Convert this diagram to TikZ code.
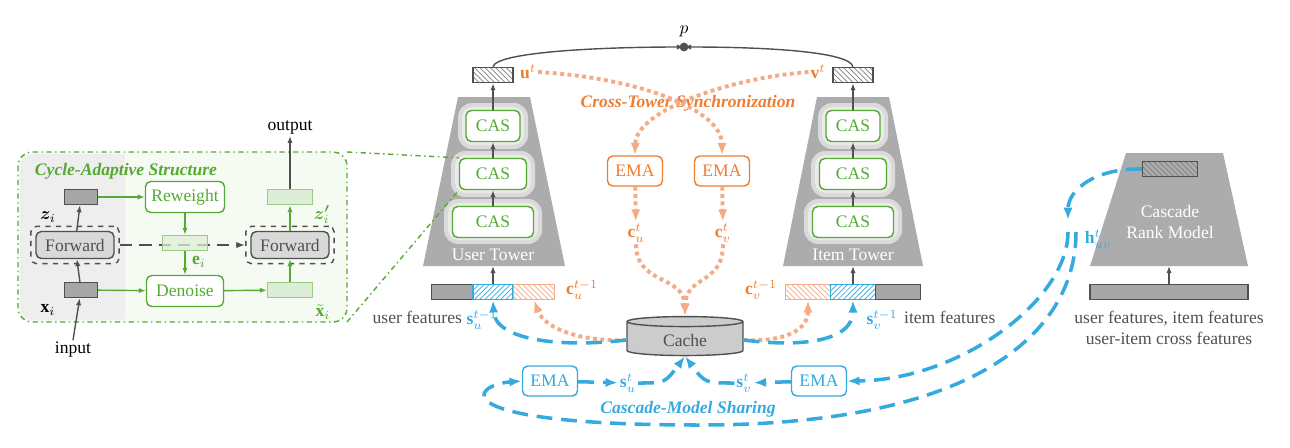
\documentclass[tikz,border=0pt]{standalone}
\usepackage{amsmath}
\usepackage{bm}
\usepackage{fontspec}
\setmainfont{Liberation Serif}
\usetikzlibrary{patterns,shapes.geometric,fit,arrows.meta}

\definecolor{casgreen}{RGB}{84,170,50}
\definecolor{syncor}{RGB}{237,125,49}
\definecolor{lightor}{RGB}{244,170,130}
\definecolor{shareblue}{RGB}{52,170,222}
\definecolor{towergray}{RGB}{172,172,172}
\definecolor{darkline}{RGB}{80,80,80}

\tikzset{
  cas/.style={draw=casgreen, thick, rounded corners=3pt, fill=white, text=casgreen,
    minimum height=0.62cm, font=\normalsize},
  halo/.style={fill=white!55!towergray, rounded corners=8pt},
  halo2/.style={fill=white!75!towergray, rounded corners=6pt},
  ema/.style={draw=#1, thick, rounded corners=3pt, fill=white, text=#1,
    minimum width=1.1cm, minimum height=0.6cm, font=\normalsize},
  vec/.style={draw=darkline, thick, minimum width=0.66cm, minimum height=0.3cm, inner sep=0pt},
  gvec/.style={draw=casgreen!60, thick, fill=casgreen!20, minimum width=0.9cm, minimum height=0.3cm, inner sep=0pt},
  fwd/.style={draw=darkline, thick, rounded corners=3pt, fill=gray!30, text=darkline,
    minimum width=1.56cm, minimum height=0.54cm, font=\normalsize},
  gbox/.style={draw=casgreen, thick, rounded corners=3pt, fill=white, text=casgreen,
    minimum width=1.54cm, minimum height=0.62cm, font=\normalsize},
  lbl/.style={font=\normalsize, inner sep=1pt},
  arr/.style={darkline, thick, -{Latex[length=4pt]}},
  garr/.style={casgreen, thick, -{Latex[length=4pt]}},
  odot/.style={lightor, line width=2.2pt, dotted, -{Latex[length=7pt]}},
  bdash/.style={shareblue, line width=2pt, dash pattern=on 9pt off 5pt, -{Latex[length=7pt]}},
}

\begin{document}
\begin{tikzpicture}[x=0.02cm, y=-0.02cm, font=\small]
  \useasboundingbox (0,0) rectangle (1290,447);

  % cycle-adaptive structure panel
  \draw[casgreen, thick, dash dot, rounded corners=8pt, fill=casgreen!6] (18,152) rectangle (347,322);
  \fill[gray!13, rounded corners=7pt] (20,154) rectangle (125,320);
  \fill[gray!13] (100,154) rectangle (125,320);
  \node[casgreen, font=\normalsize\bfseries\itshape] at (126,171) {Cycle-Adaptive Structure};

  \node[vec, fill=gray!70] (z) at (81,197) {};
  \node[fwd] (fwdA) at (75,245) {Forward};
  \node[draw=darkline, thick, dashed, rounded corners=3pt, fit=(fwdA), inner sep=2.5pt] {};
  \node[vec, fill=gray!70] (x) at (81,290) {};
  \node[gbox] (rew) at (185,197) {Reweight};
  \node[gbox] (den) at (185,291) {Denoise};
  \node[gvec] (zp) at (290,197) {};
  \node[fwd] (fwdB) at (290,245) {Forward};
  \node[draw=darkline, thick, dashed, rounded corners=3pt, fit=(fwdB), inner sep=2.5pt] {};
  \node[gvec] (xt) at (290,290) {};

  \draw[darkline, line width=1.6pt, dash pattern=on 7pt off 4pt, -{Latex[length=5pt]}]
    ([xshift=3pt]fwdA.east) -- ([xshift=-3pt]fwdB.west);
  \node[gvec, fill opacity=0.75] (e) at (185,243) {};

  \node[lbl] (inp) at (73,350) {input};
  \node[lbl] (outp) at (290,127) {output};
  \draw[arr] (inp.north) -- (x);
  \draw[arr] (x) -- (fwdA);
  \draw[arr] (fwdA) -- (z);
  \draw[arr] (zp) -- (outp.south);
  \draw[garr] (z) -- (rew);
  \draw[garr] (rew) -- (e);
  \draw[garr] (e) -- (den);
  \draw[garr] (x) -- (den);
  \draw[garr] (den) -- (xt);
  \draw[garr] (xt) -- (fwdB);
  \draw[garr] (fwdB) -- (zp);
  \node[lbl] at (48,217) {$\bm{z}_i$};
  \node[lbl] at (48,310) {$\mathbf{x}_i$};
  \node[lbl, casgreen] at (199,262) {$\mathbf{e}_i$};
  \node[lbl, casgreen] at (322,215) {$\bm{z'}_i$};
  \node[lbl, casgreen] at (323,312) {$\tilde{\mathbf{x}}_i$};

  % towers
  \fill[towergray] (458,97) -- (530,97) -- (565,266) -- (423,266) -- cycle;
  \fill[towergray] (817,97) -- (889,97) -- (923,266) -- (783,266) -- cycle;
  \foreach \cx/\nm in {493/u, 853/v}{
    \fill[halo] (\cx-35,103) rectangle (\cx+35,149);
    \fill[halo] (\cx-42,151) rectangle (\cx+42,197);
    \fill[halo] (\cx-49,199) rectangle (\cx+49,244);
    \fill[halo2] (\cx-31,107) rectangle (\cx+31,145);
    \fill[halo2] (\cx-38,155) rectangle (\cx+38,193);
    \fill[halo2] (\cx-45,203) rectangle (\cx+45,240);
    \node[cas, minimum width=1.08cm] (cas1\nm) at (\cx,126) {CAS};
    \node[cas, minimum width=1.34cm] (cas2\nm) at (\cx,174) {CAS};
    \node[cas, minimum width=1.62cm] (cas3\nm) at (\cx,222) {CAS};
    \draw[arr] (cas3\nm) -- (cas2\nm);
    \draw[arr] (cas2\nm) -- (cas1\nm);
  }
  \node[white, font=\normalsize] at (493,255) {User Tower};
  \node[white, font=\normalsize] at (853,255) {Item Tower};

  \draw[casgreen, thick, dash dot] (347,152) -- (cas2u.north west);
  \draw[casgreen, thick, dash dot] (347,322) -- (cas2u.south west);

  % tower outputs
  \node[vec, minimum width=0.8cm, pattern=north west lines, pattern color=gray] (ur) at (493,75) {};
  \node[vec, minimum width=0.8cm, pattern=north west lines, pattern color=gray] (vr) at (853,75) {};
  \draw[arr] (cas1u) -- (ur);
  \draw[arr] (cas1v) -- (vr);
  \node[lbl] (p) at (684,31) {$p$};
  \fill[darkline] (684,47) circle (2.5pt) coordinate (pdot);
  \draw[arr] (ur.north) .. controls (496,52) and (600,47) .. (pdot);
  \draw[arr] (vr.north) .. controls (850,52) and (770,47) .. (pdot);
  \node[lbl, syncor] (ut) at (528,72) {$\mathbf{u}^t$};
  \node[lbl, syncor] (vt) at (818,72) {$\mathbf{v}^t$};

  % feature bars
  \node[vec, minimum width=0.82cm, fill=gray!70] (fu) at (452,292) {};
  \node[vec, draw=shareblue, minimum width=0.8cm, pattern=north east lines, pattern color=shareblue] (su) at (493,292) {};
  \node[vec, draw=lightor, minimum width=0.82cm, pattern=north west lines, pattern color=lightor] (cuo) at (534,292) {};
  \draw[arr] (su.north) -- (493,266);
  \node[vec, draw=lightor, minimum width=0.9cm, pattern=north west lines, pattern color=lightor] (cvo) at (808,292) {};
  \node[vec, draw=shareblue, minimum width=0.9cm, pattern=north east lines, pattern color=shareblue] (sv) at (853,292) {};
  \node[vec, minimum width=0.9cm, fill=gray!70] (fv) at (898,292) {};
  \draw[arr] (sv.north) -- (853,266);
  \node[lbl, syncor] at (582,290) {$\mathbf{c}_u^{t-1}$};
  \node[lbl, syncor] at (761,290) {$\mathbf{c}_v^{t-1}$};
  \node[lbl, shareblue] (sul) at (482,320) {$\mathbf{s}_u^{t-1}$};
  \node[lbl, shareblue] (svl) at (882,320) {$\mathbf{s}_v^{t-1}$};
  \node[lbl, darkline, anchor=east] at (464,317) {user features};
  \node[lbl, darkline, anchor=west] at (902,317) {item features};

  % cross-tower synchronization
  \node[syncor, font=\normalsize\bfseries\itshape] at (688,103) {Cross-Tower Synchronization};
  \node[ema=syncor] (emaA) at (635,171) {EMA};
  \node[ema=syncor] (emaB) at (722,171) {EMA};
  \node[lbl, syncor] (cu) at (636,233) {$\mathbf{c}_u^t$};
  \node[lbl, syncor] (cv) at (723,233) {$\mathbf{c}_v^t$};
  \node[cylinder, shape border rotate=90, draw=darkline, thick, fill=gray!40, aspect=0.18,
    minimum width=2.32cm, minimum height=0.78cm, text=darkline, font=\normalsize] (cache) at (685,340) {Cache};
  \draw[odot] (ut.east) .. controls (640,78) and (722,110) .. (emaB.north);
  \draw[odot] (vt.west) .. controls (730,78) and (636,110) .. (emaA.north);
  \draw[odot] (emaA) -- (cu);
  \draw[odot] (emaB) -- (cv);
  \draw[odot] (cu.south) .. controls (636,285) and (684,275) .. (cache.north);
  \draw[odot] (cv.south) .. controls (723,285) and (686,275) .. (cache.north);
  \draw[odot] (cache.west) .. controls (585,342) and (545,330) .. (cuo.south);
  \draw[odot] (cache.east) .. controls (785,342) and (808,330) .. (cvo.south);

  % cascade-model sharing
  \draw[bdash] (cache.west) .. controls (560,348) and (495,340) .. (su.south);
  \draw[bdash] (cache.east) .. controls (805,348) and (853,340) .. (sv.south);
  \node[ema=shareblue] (emaC) at (550,381) {EMA};
  \node[ema=shareblue] (emaD) at (819,381) {EMA};
  \node[lbl, shareblue] (sut) at (628,383) {$\mathbf{s}_u^t$};
  \node[lbl, shareblue] (svt) at (744,383) {$\mathbf{s}_v^t$};
  \draw[bdash] (emaC) -- (sut);
  \draw[bdash] (emaD) -- (svt);
  \draw[bdash] (sut.east) .. controls (665,383) .. (cache.south);
  \draw[bdash] (svt.west) .. controls (705,383) .. (cache.south);
  \node[shareblue, font=\normalsize\bfseries\itshape] at (688,409) {Cascade-Model Sharing};

  % cascade rank model
  \fill[towergray] (1126,153) -- (1223,153) -- (1248,266) -- (1090,266) -- cycle;
  \node[vec, minimum width=1.1cm, pattern=north west lines, pattern color=gray] (hr) at (1170,169) {};
  \node[white, align=center, font=\normalsize] at (1170,222) {Cascade\\Rank Model};
  \node[vec, minimum width=3.16cm, fill=gray!70] (fr) at (1169,292) {};
  \draw[arr] (fr.north) -- (1169,266);
  \node[lbl, darkline, align=center] at (1169,328) {user features, item features\\user-item cross features};
  \node[lbl, shareblue] at (1098,239) {$\mathbf{h}_{uv}^t$};
  \coordinate (hmid) at (1068,220);
  \draw[bdash] (hr.west) .. controls (1095,168) and (1068,190) .. (hmid);
  \draw[bdash] (1068,232) .. controls (1068,300) and (960,380) .. (emaD.east);
  \draw[bdash] (1076,232) .. controls (1076,330) and (980,425) .. (700,425)
    .. controls (440,425) and (470,385) .. (emaC.west);
\end{tikzpicture}
\end{document}
